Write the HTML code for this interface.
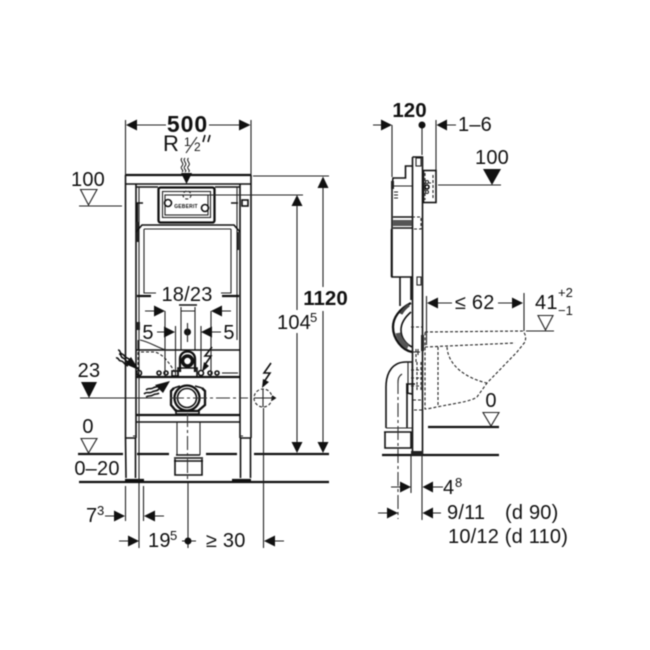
<!DOCTYPE html>
<html>
<head>
<meta charset="utf-8">
<style>
html,body{margin:0;padding:0;background:#fff;width:650px;height:650px;overflow:hidden}
svg{display:block;filter:blur(0.45px)}
text{font-family:"Liberation Sans",sans-serif;fill:#111}
.b{font-weight:bold}
.t{font-size:20px;letter-spacing:.2px}
.s{font-size:13px}
.l{fill:none;stroke:#222;stroke-width:1.1}
.m{fill:none;stroke:#111;stroke-width:1.6}
.h{fill:none;stroke:#111;stroke-width:2.3}
.d{fill:none;stroke:#222;stroke-width:1.1;stroke-dasharray:3 2}
.c{fill:none;stroke:#333;stroke-width:1.1;stroke-dasharray:14 3 3 3}
.a{fill:#111;stroke:none}
</style>
</head>
<body>
<svg width="650" height="650" viewBox="0 0 650 650" xmlns="http://www.w3.org/2000/svg">
<rect width="650" height="650" fill="#fff"/>

<!-- LEFT VIEW: frame -->
<path class="h" d="M125 175H251"/>
<path class="m" d="M125 184H251"/>
<path class="m" d="M125.500 175V438M251 175V438M136 184V438M240 184V438"/>
<path class="m" d="M125 438H136M240 438H251M125.500 438L126 478M135.500 438V478M240.500 438V478M250.500 438V478"/>
<path class="h" d="M125 480H144M232 480H251"/>
<path class="m" d="M136 187H158M215 187H240"/>
<path class="l" d="M139 187V380M237 187V340M133 436h3M240 436h3"/>
<!-- flush plate -->
<rect x="158.500" y="187.500" width="56" height="35" rx="2" class="h"/>
<rect x="162.500" y="191.500" width="48" height="26" class="l"/>
<rect x="165" y="195" width="43" height="20" class="l"/>
<circle cx="187" cy="195" r="4" class="d"/>
<circle cx="168" cy="203" r="3.500" class="m"/>
<circle cx="205" cy="208" r="3.500" class="m"/>
<text x="186" y="208" text-anchor="middle" font-size="5" font-weight="bold" letter-spacing=".2">GEBERIT</text>
<path class="m" d="M136 203H143M231 203H238"/>
<rect x="242" y="200" width="6" height="6" class="m"/>
<path class="h" d="M137 203V222"/>
<rect x="136" y="222" width="3" height="20" fill="#222"/>
<rect x="237" y="232" width="2" height="18" fill="#222"/>
<!-- cistern -->
<path class="m" d="M136 232L142 225H234L240 232"/>
<path class="l" d="M144 229H231M144 229V293H156M231 229V293H221"/>
<path class="h" d="M137 296H151M222 296H239"/>
<!-- central tube -->
<path class="m" d="M179 305H197"/>
<path class="l" d="M181 307V350M195 307V350M181 311H195"/>
<rect x="136" y="322" width="4" height="8" fill="#222"/>
<!-- upper crossbar -->
<path class="m" d="M136 350H240"/>
<path class="h" d="M136 377H240"/>
<path class="l" d="M140 340C150 342 158 348 166 350M138 340V350"/>
<path class="d" d="M138 352V375M141 352H155C165 355 170 365 175 372"/>
<!-- small connectors -->
<circle cx="139" cy="373" r="2.500" class="m"/>
<circle cx="159" cy="373" r="2" class="m"/>
<circle cx="166" cy="373" r="2" class="m"/>
<rect x="172" y="371" width="6" height="5" class="m"/>
<circle cx="201" cy="373" r="2.500" class="m"/>
<circle cx="210" cy="373" r="2" class="m"/>
<circle cx="217" cy="373" r="2" class="m"/>
<path class="l" d="M222 373H238"/>
<!-- bend top -->
<path class="h" d="M180 372V359C180 349 195 349 195 359V372"/>
<circle cx="187.500" cy="361" r="5" stroke="#111" stroke-width="3.500" fill="none"/>
<path class="m" d="M178 368H197V377H178Z"/>
<!-- dims 18/23 & 5 -->
<text x="187" y="301" class="t" text-anchor="middle">18/23</text>
<path class="l" d="M165 311V376M211 311V376M175.500 326V376M201 326V370"/>
<path class="l" d="M145 311H160M216 311H231"/>
<path class="a" d="M154 305.500L165 311L154 316.500ZM222 305.500L211 311L222 316.500Z"/>
<text x="148" y="339" class="t" text-anchor="middle">5</text>
<text x="229" y="339" class="t" text-anchor="middle">5</text>
<path class="l" d="M157 332H170M206 332H221"/>
<path class="a" d="M164 326.500L175 332L164 337.500ZM212 326.500L201 332L212 337.500Z"/>
<circle cx="187.500" cy="332" r="3.500" class="a"/>
<path class="l" d="M187.500 323V342"/>
<!-- lightning 1 -->
<path class="m" d="M212 347L205 356L211 356L204 366"/>
<path class="a" d="M202 372L204 362L209 366Z"/>
<!-- lightning 2 -->
<path class="m" d="M271 363L264 373L270 373L264 382"/>
<path class="a" d="M262 388L263 379L269 382Z"/>
<!-- wavy 1 -->
<path class="m" d="M118 350c3 0 1 3 4 4s2 3 5 4 3 2 5 4M119 354c3 0 1 3 4 4s2 3 5 4M116 358c3-1 2 3 5 3s3 4 7 5"/>
<path class="a" d="M139 370L125 364L131 357Z"/>
<!-- wavy 2 -->
<path class="m" d="M146 390c3-3 4 0 7-2s4 0 7-3M144 394c3-3 5 0 8-2s4 0 7-3M146 397c3-2 4 0 7-2s4 0 6-2"/>
<path class="a" d="M170 381L155 385L163 393Z"/>
<!-- lower pipe -->
<circle cx="187" cy="398" r="12.500" class="h"/>
<circle cx="187" cy="398" r="9.500" class="m"/>
<path class="h" d="M174 388L171 391V405L176 411H198L205 405V391L202 388"/>
<path class="m" d="M174 388L180 386M202 388L195 386M176 409V414H199V409"/>
<!-- lower crossbars -->
<path class="h" d="M136 415H240"/>
<path class="m" d="M136 422H240"/>
<path class="l" d="M139 377V548"/>
<path class="l" d="M177 422V455M200 422V455"/>
<path class="m" d="M176 455H200"/>
<path class="m" d="M174 458H203M175 459V475H202V459M174 461H203"/>
<path class="c" d="M187.500 413V480"/>
<!-- baseline / floor -->
<path class="h" d="M78 454H123M137 454H169M206 454H237M254 454H329"/>
<path class="h" d="M79 482H329"/>
<!-- 23 level and services -->
<text x="89" y="377" class="t" text-anchor="middle">23</text>
<path class="a" d="M81 382H97L89 398Z"/>
<path class="l" d="M80 398H162"/>
<path class="c" d="M170 398H248"/>
<circle cx="263" cy="398" r="9" class="d"/>
<path class="l" d="M254 398H275M263 389V407"/>
<path class="m" d="M272 396l3 2-3 2"/>
<path class="l" d="M263.500 408V548"/>
<!-- 500 dim -->
<text x="187.500" y="132" class="b" font-size="23" text-anchor="middle" letter-spacing="1">500</text>
<path class="l" d="M125.500 120V175M251 120V175M137 125H166M209 125H240"/>
<path class="a" d="M126 125L137 119.500V130.500ZM250.500 125L239 119.500V130.500Z"/>
<text x="163" y="151" font-size="22">R</text>
<text x="184" y="146" font-size="12">1</text>
<path class="l" d="M186 153L197 137"/>
<text x="194" y="151" font-size="12">2</text>
<path class="m" d="M205 135l-2 7M210 135l-2 7"/>
<path class="l" d="M185 158c-3 3 3 5 0 8s3 4 0 6M188.500 158c-3 3 3 5 0 8s3 4 0 6M182 158c-3 3 3 5 0 8s3 4 0 6"/>
<path class="a" d="M181 173H192L186.500 184Z"/>
<!-- 100 left -->
<text x="88" y="186" class="t" text-anchor="middle">100</text>
<path class="l" d="M80.500 189.500H97L88.500 205Z"/>
<path class="l" d="M79 206H122"/>
<!-- 0 left -->
<text x="88" y="433" class="t" text-anchor="middle">0</text>
<path class="l" d="M81 438.500H97L88.500 453Z"/>
<text x="97" y="475" class="t" text-anchor="middle">0–20</text>
<!-- height dims -->
<path class="l" d="M253 176H329M187 195H303"/>
<path class="l" d="M323 185V287M323 311V445M297 204V310M297 333V445"/>
<path class="a" d="M323 176.500L317.500 188H328.500ZM297 195L291.500 206H302.500ZM323 453L317.500 442H328.500ZM297 453L291.500 442H302.500Z"/>
<text x="325.500" y="305" class="b" font-size="20.500" text-anchor="middle">1120</text>
<text x="277" y="329" class="t">104</text>
<text x="310" y="322" class="s">5</text>
<!-- bottom dims left -->
<path class="l" d="M125.500 486V521M143.500 486V521M188 482V548"/>
<path class="l" d="M105 516H118M148 516H164"/>
<path class="a" d="M125 516L114 510.500V521.500ZM144 516L155 510.500V521.500Z"/>
<text x="86" y="522" class="t">7</text>
<text x="97" y="515" class="s">3</text>
<path class="l" d="M119 541H130M182 541H196M272 541H284"/>
<path class="a" d="M139 541L128 535.500V546.500ZM264 541L275 535.500V546.500Z"/>
<circle cx="188" cy="541" r="3.500" class="a"/>
<text x="148" y="547" class="t">19</text>
<text x="170" y="540" class="s">5</text>
<text x="206" y="547" class="t">≥ 30</text>

<!-- RIGHT VIEW -->
<path class="m" d="M412.500 157H422.500V454M412.500 157V454"/>
<rect x="416" y="158" width="5" height="8" class="l"/>
<path class="m" d="M412 166H405.500V178H393L392 186V277H412"/>
<rect x="391" y="181" width="3" height="8" fill="#222"/>
<path class="l" d="M393 186H412M394 192H398M394 195H398M394 198H398"/>
<path class="m" d="M393 217H412M393 228H412"/>
<rect x="393" y="220" width="19" height="6" fill="#555"/>
<path class="d" d="M412 217H421V229H412"/>
<path class="m" d="M391.500 229V277"/>
<rect x="417" y="277" width="4" height="8" class="l"/>
<!-- plate -->
<rect x="423.500" y="170.500" width="12.500" height="32" class="m"/>
<path class="d" d="M425 173V200M433 175V198M423 183H433"/>
<circle cx="427" cy="187" r="2" class="m"/>
<circle cx="427" cy="182" r="1.500" class="l"/>
<circle cx="427" cy="192" r="1.500" class="l"/>
<!-- S pipe -->
<path class="m" d="M400 277V306M411 277V300"/>
<path class="h" d="M411 303C399 309 393 318 393 327C393 339 402 350 412 352"/>
<path class="m" d="M411 312C404 318 401 324 401 330C401 338 406 344 412 347"/>
<path stroke="#444" stroke-width="3" fill="none" d="M409 305C405 308 403 310 401 314"/>
<path stroke="#555" stroke-width="5" fill="none" d="M398 333C399 339 404 345 408 347"/>
<path class="l" d="M412 352H420M418 349V355"/>
<path class="d" d="M411 327H422M416 349V362"/>
<rect x="421" y="335" width="3" height="16" fill="#222"/>
<!-- elbow -->
<path class="m" d="M412 362H406C393 362 386 372 386 387V428"/>
<path class="m" d="M407 385V428"/>
<path class="l" d="M386 428H412M402 374C399 376 398 378 398 383"/>
<path class="m" d="M384 432H411V448H385V432Z"/>
<path class="l" d="M408 362V394M412 362V395"/>
<path class="d" d="M417 362V392M421 362V392M411 370H423M411 378H423M411 386H423"/>
<path class="m" d="M406 384H415M407 384V393L412 394"/>
<path class="d" d="M413 400H422M414 410H422"/>
<path class="c" d="M398 380V519"/>
<!-- toilet dashed -->
<path class="d" d="M425 332L523 331C526 335 526 338 525 342L517 352L487 383L477 397C470 402 455 403 427 409L425 409V332"/>
<path class="d" d="M425 347L515 343M438 347V407M447 347C448 365 465 378 487 383"/>
<!-- right floor -->
<path class="h" d="M428 427H499M382 455H499"/>
<rect x="411" y="451" width="12" height="4" fill="#222"/>
<!-- dims right top -->
<text x="409.500" y="117" class="b" font-size="20.500" text-anchor="middle">120</text>
<path class="l" d="M373 125H382M392 125V177M422 125V155M436 120V170M446 125H456"/>
<path class="a" d="M392 125L381 119.500V130.500ZM436.500 125L447 119.500V130.500Z"/>
<circle cx="422" cy="125" r="3.500" class="a"/>
<text x="458" y="131" class="t">1–6</text>
<text x="492" y="164" class="t" text-anchor="middle">100</text>
<path class="a" d="M483 169H501L492 185Z"/>
<path class="l" d="M438 185H501"/>
<!-- ≤ 62 -->
<path class="l" d="M426.500 296V345M524 293V331M438 303H452M498 303H512"/>
<path class="a" d="M427 303L438 297.500V308.500ZM523 303L512 297.500V308.500Z"/>
<text x="455" y="309" class="t">≤ 62</text>
<text x="535" y="309" class="t">41</text>
<text x="558" y="297" class="s">+2</text>
<text x="558" y="315" class="s">−1</text>
<path class="l" d="M538 315.500H553L545.500 330Z"/>
<path class="l" d="M526 331H554"/>
<!-- 0 right -->
<text x="491" y="407" class="t" text-anchor="middle">0</text>
<path class="l" d="M483 412.500H499L491 426Z"/>
<!-- bottom dims right -->
<path class="l" d="M411 455V493M422 455V520M391 487H400M433 487H443M378 513H388M432 513H441"/>
<path class="a" d="M411 487L400 481.500V492.500ZM422.500 487L433 481.500V492.500ZM398 513L387 507.500V518.500ZM422.500 513L433 507.500V518.500Z"/>
<text x="443" y="494" class="t">4</text>
<text x="455" y="487" class="s">8</text>
<text x="447" y="519" class="t">9/11</text>
<text x="505" y="519" class="t">(d 90)</text>
<text x="448" y="543" class="t">10/12 (d 110)</text>
</svg>
</body>
</html>
